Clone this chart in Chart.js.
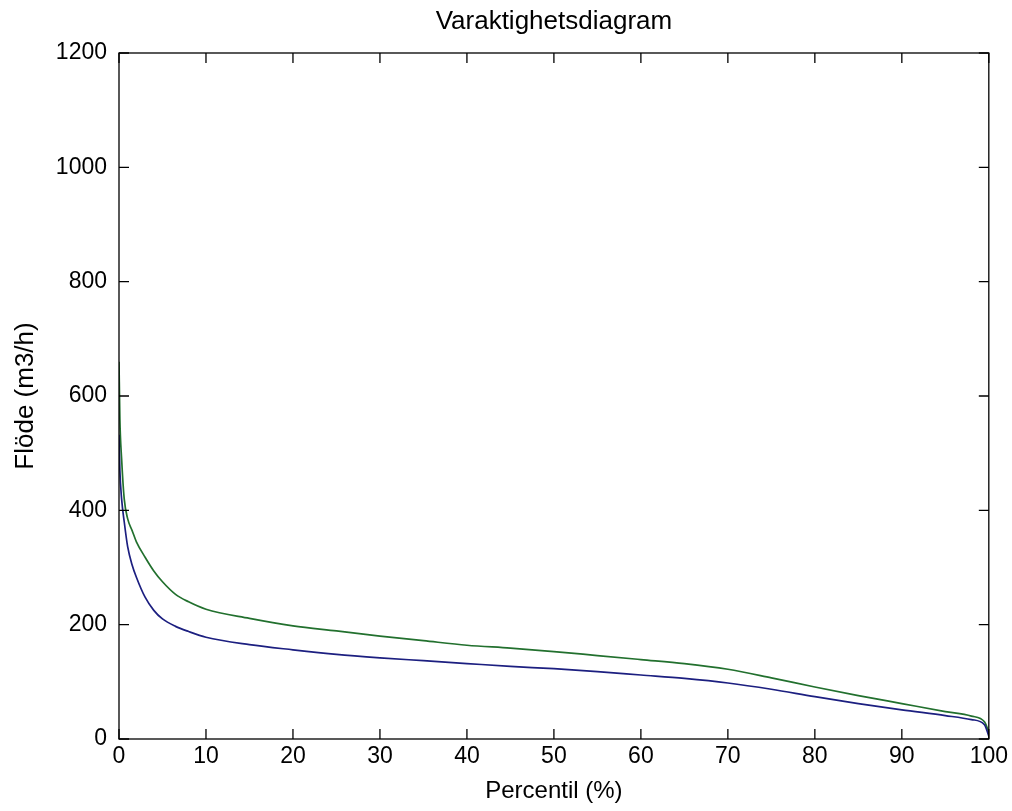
<!DOCTYPE html>
<html>
<head>
<meta charset="utf-8">
<script src="https://cdn.jsdelivr.net/npm/chart.js@4"></script>
<style>
  body { margin: 0; background: #fff; }
</style>
</head>
<body>
<canvas id="myChart" width="1012" height="811"></canvas>
<script>
// percentiles (%) sampled along the duration curves
const percentiles = [0, 0.1, 0.3, 0.6, 1, 1.5, 2, 3, 4, 5, 6.5, 8, 10, 15, 20, 25, 30, 35, 40, 45, 50, 55, 60, 65, 70, 75, 80, 85, 90, 95, 98, 99.5, 100];
// flow (m3/h)
const flowBlue = [532, 470, 420, 380, 336, 305, 283, 248, 225, 210, 197, 188, 178, 165, 156, 148, 142, 137, 132, 127, 123, 118, 112, 106, 98, 87, 74, 62, 51, 41, 34, 25, 5];
const flowGreen = [660, 560, 490, 420, 385, 365, 345, 318, 294, 275, 253, 240, 227, 211, 198, 189, 180, 172, 164, 159, 153, 146, 139, 132, 122, 107, 91, 76, 62, 48, 40, 30, 12];
const xTicks = [0, 10, 20, 30, 40, 50, 60, 70, 80, 90, 100];
const yTicks = [0, 200, 400, 600, 800, 1000, 1200];

const toPoints = (ys) => ys.map((y, i) => ({x: percentiles[i], y: y}));
const FONT = 'Liberation Sans, Arial, sans-serif';

// matlab style box with inward ticks on all four sides
const boxTicks = {
  id: 'boxTicks',
  afterDatasetsDraw(chart) {
    const ctx = chart.ctx;
    const a = chart.chartArea;
    const xs = chart.scales.x, ys = chart.scales.y;
    const len = 10;
    ctx.save();
    ctx.strokeStyle = '#000';
    ctx.lineWidth = 1.3;
    ctx.beginPath();
    xTicks.forEach(v => {
      const px = xs.getPixelForValue(v);
      ctx.moveTo(px, a.bottom); ctx.lineTo(px, a.bottom - len);
      ctx.moveTo(px, a.top); ctx.lineTo(px, a.top + len);
    });
    yTicks.forEach(v => {
      const py = ys.getPixelForValue(v);
      ctx.moveTo(a.left, py); ctx.lineTo(a.left + len, py);
      ctx.moveTo(a.right, py); ctx.lineTo(a.right - len, py);
    });
    ctx.stroke();
    ctx.strokeRect(a.left, a.top, a.right - a.left, a.bottom - a.top);
    ctx.restore();
  }
};

const data = {
  datasets: [{
    label: 'blue',
    data: toPoints(flowBlue),
    borderColor: '#1c1f80',
    borderWidth: 1.7,
    pointRadius: 0,
    cubicInterpolationMode: 'monotone'
  }, {
    label: 'green',
    data: toPoints(flowGreen),
    borderColor: '#22702e',
    borderWidth: 1.7,
    pointRadius: 0,
    cubicInterpolationMode: 'monotone'
  }]
};

const config = {
  type: 'line',
  data: data,
  options: {
    responsive: false,
    animation: false,
    layout: { padding: { right: 22 } },
    plugins: {
      legend: { display: false },
      tooltip: { enabled: false },
      title: {
        display: true,
        text: 'Varaktighetsdiagram',
        fullSize: false,
        color: '#000',
        font: { family: FONT, size: 26, weight: 'normal' },
        padding: { top: 6, bottom: 15.8 }
      }
    },
    scales: {
      x: {
        type: 'linear',
        min: 0,
        max: 100,
        afterFit: (s) => { s.height = 72; },
        afterBuildTicks: (s) => { s.ticks = xTicks.map(v => ({value: v})); },
        grid: { display: false, drawTicks: false },
        border: { display: false },
        ticks: {
          color: '#000',
          padding: 4,
          maxRotation: 0,
          callback: (v) => String(v),
          font: { family: FONT, size: 23 }
        },
        title: {
          display: true,
          text: 'Percentil (%)',
          color: '#000',
          font: { family: FONT, size: 24 },
          padding: { top: 0, bottom: 5.6 }
        }
      },
      y: {
        min: 0,
        max: 1200,
        afterFit: (s) => { s.width = 119; },
        afterBuildTicks: (s) => { s.ticks = yTicks.map(v => ({value: v})); },
        grid: { display: false, drawTicks: false },
        border: { display: false },
        ticks: {
          color: '#000',
          padding: 12,
          callback: (v) => String(v),
          font: { family: FONT, size: 23 }
        },
        title: {
          display: true,
          text: 'Flöde (m3/h)',
          color: '#000',
          font: { family: FONT, size: 26 },
          padding: { top: 10, bottom: 0 }
        }
      }
    }
  },
  plugins: [boxTicks]
};

const myChart = new Chart(document.getElementById('myChart'), config);
</script>
</body>
</html>
